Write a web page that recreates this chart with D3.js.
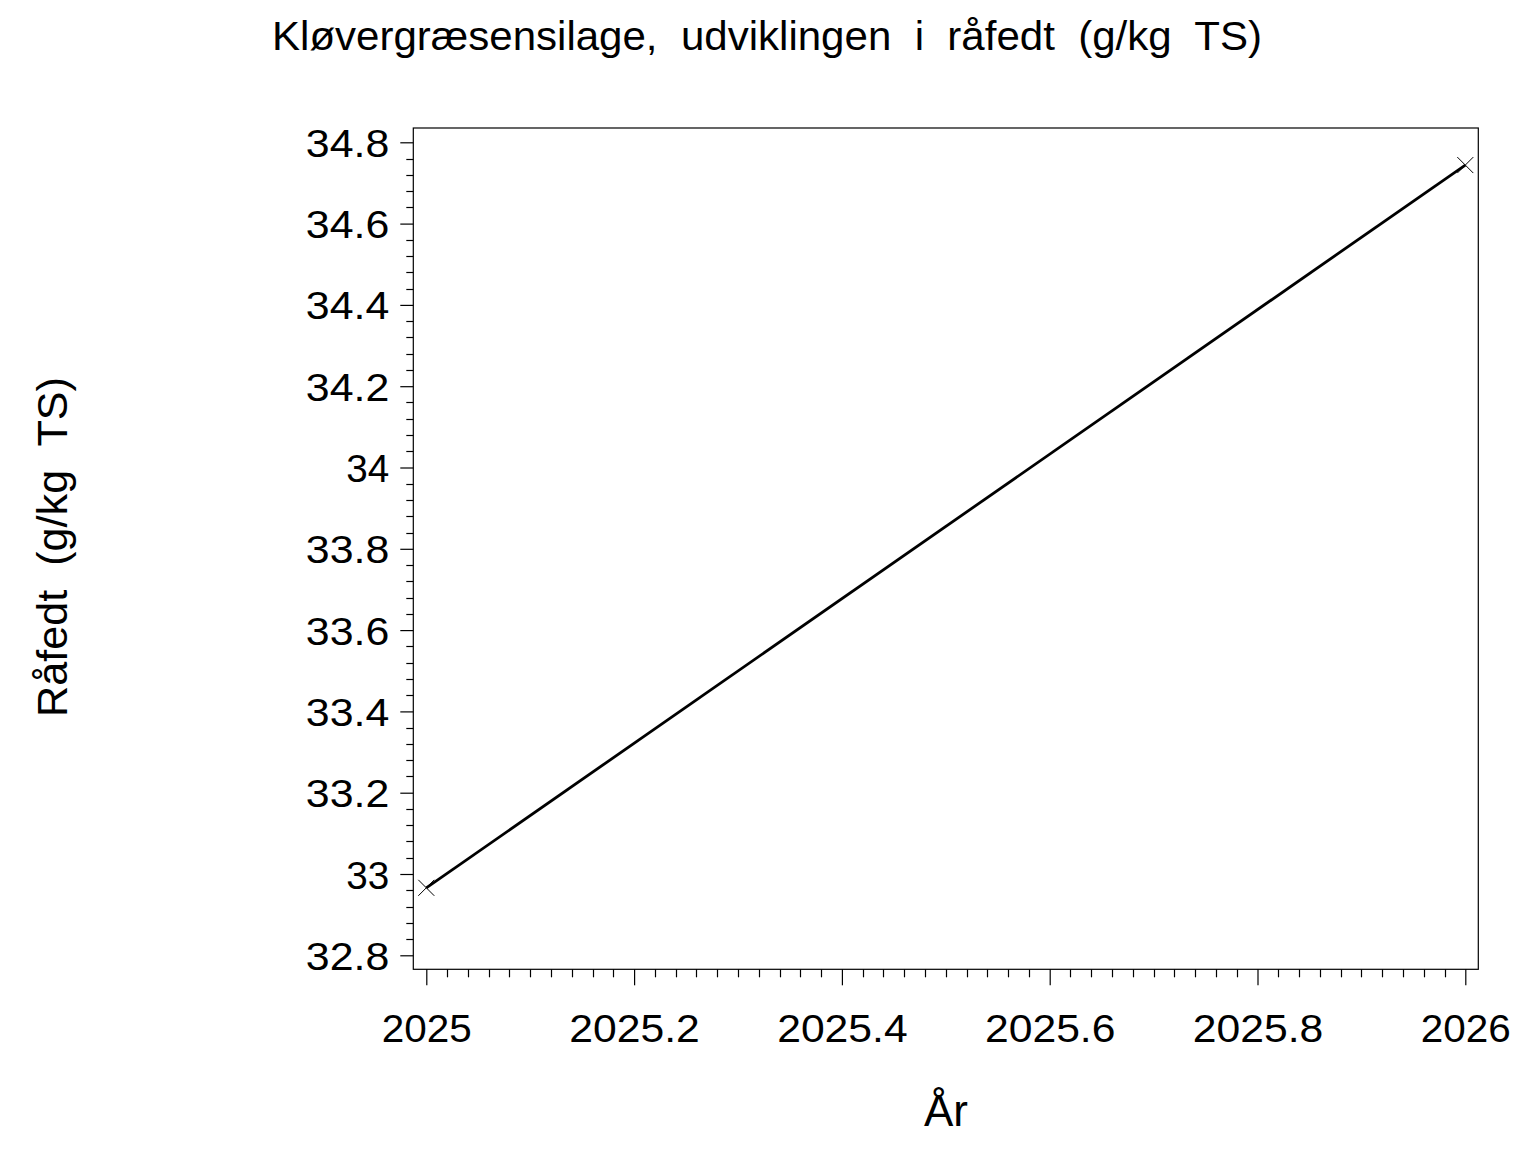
<!DOCTYPE html>
<html>
<head>
<meta charset="utf-8">
<script src="https://cdn.jsdelivr.net/npm/d3@7"></script>
<style>
  html, body { margin: 0; padding: 0; background: #fff; }
  svg { display: block; }
  text { font-family: Arial, "Liberation Sans", sans-serif; fill: #000; }
</style>
</head>
<body>
<svg id="chart" width="1536" height="1152"></svg>
<script>
// ---- data ----
const years = [2025, 2026];
const raafedt = [32.966, 34.744];
const xTickValues = [2025, 2025.2, 2025.4, 2025.6, 2025.8, 2026];
const xTickLabels = ["2025", "2025.2", "2025.4", "2025.6", "2025.8", "2026"];
const yTickValues = [32.8, 33.0, 33.2, 33.4, 33.6, 33.8, 34.0, 34.2, 34.4, 34.6, 34.8];
const yTickLabels = ["32.8", "33", "33.2", "33.4", "33.6", "33.8", "34", "34.2", "34.4", "34.6", "34.8"];
const titleText = "Kløvergræsensilage,  udviklingen  i  råfedt  (g/kg  TS)";
const xLabel = "År";
const yLabel = "Råfedt  (g/kg  TS)";

// ---- layout ----
const frame = { left: 413.3, right: 1478.3, top: 128, bottom: 969.3 };
const svg = d3.select("#chart");

const x = d3.scaleLinear().domain([2025, 2026]).range([426.3, 1465.3]);
const y = d3.scaleLinear().domain([32.8, 34.8]).range([955.3, 142.3]);

function labelWidth(s) {
  let w = 0;
  for (const c of s) w += (c === ".") ? 18 : 22.5;
  return w;
}

// frame
svg.append("rect")
  .attr("x", frame.left).attr("y", frame.top)
  .attr("width", frame.right - frame.left).attr("height", frame.bottom - frame.top)
  .attr("fill", "none").attr("stroke", "#000").attr("stroke-width", 1.2);

// y minor ticks
const yMinor = d3.range(0, 51).map(i => 32.8 + i * 0.04)
  .filter(v => Math.abs(((v - 32.8) / 0.2) - Math.round((v - 32.8) / 0.2)) > 1e-6);
svg.append("g").selectAll("line").data(yMinor).join("line")
  .attr("x1", frame.left - 7).attr("x2", frame.left)
  .attr("y1", d => Math.round(y(d)) + 0.5).attr("y2", d => Math.round(y(d)) + 0.5)
  .attr("stroke", "#000").attr("stroke-width", 1.2);

// y axis (major)
const yAxis = d3.axisLeft(y).tickValues(yTickValues).tickSize(13).tickPadding(11)
  .tickFormat((d, i) => yTickLabels[i]);
const gy = svg.append("g").attr("transform", `translate(${frame.left},0)`).call(yAxis);
gy.select(".domain").remove();
gy.selectAll(".tick line").attr("stroke", "#000").attr("stroke-width", 1.2);
gy.selectAll(".tick text")
  .attr("font-size", 39).attr("font-family", "Arial, 'Liberation Sans', sans-serif")
  .attr("fill", "#000")
  .attr("dy", "0.36em")
  .attr("textLength", (d, i) => labelWidth(yTickLabels[i]) - 2)
  .attr("lengthAdjust", "spacingAndGlyphs");

// x minor ticks
const xMinor = d3.range(0, 51).map(i => 2025 + i * 0.02)
  .filter(v => Math.abs(((v - 2025) / 0.2) - Math.round((v - 2025) / 0.2)) > 1e-6);
svg.append("g").selectAll("line").data(xMinor).join("line")
  .attr("x1", d => Math.round(x(d)) + 0.5).attr("x2", d => Math.round(x(d)) + 0.5)
  .attr("y1", frame.bottom).attr("y2", frame.bottom + 8)
  .attr("stroke", "#000").attr("stroke-width", 1.2);

// x axis (major)
const xAxis = d3.axisBottom(x).tickValues(xTickValues).tickSize(16).tickPadding(29)
  .tickFormat((d, i) => xTickLabels[i]);
const gx = svg.append("g").attr("transform", `translate(0,${frame.bottom})`).call(xAxis);
gx.select(".domain").remove();
gx.selectAll(".tick line").attr("stroke", "#000").attr("stroke-width", 1.2);
gx.selectAll(".tick text")
  .attr("font-size", 39).attr("font-family", "Arial, 'Liberation Sans', sans-serif")
  .attr("fill", "#000")
  .attr("y", null).attr("dy", null)
  .attr("transform", "translate(0,73)")
  .attr("textLength", (d, i) => labelWidth(xTickLabels[i]))
  .attr("lengthAdjust", "spacingAndGlyphs");

// line
const pts = years.map((yr, i) => [yr, raafedt[i]]);
svg.append("path")
  .datum(pts)
  .attr("d", d3.line().x(d => x(d[0])).y(d => y(d[1])))
  .attr("fill", "none").attr("stroke", "#000").attr("stroke-width", 2.8);

// markers (x)
const m = 8;
const mk = svg.append("g").selectAll("g").data(pts).join("g")
  .attr("transform", d => `translate(${x(d[0])},${y(d[1])})`);
mk.append("line").attr("x1", -m).attr("y1", -m).attr("x2", m).attr("y2", m)
  .attr("stroke", "#000").attr("stroke-width", 1);
mk.append("line").attr("x1", -m).attr("y1", m).attr("x2", m).attr("y2", -m)
  .attr("stroke", "#000").attr("stroke-width", 1);

// title
svg.append("text")
  .attr("x", 272).attr("y", 50)
  .attr("font-size", 41)
  .style("white-space", "pre")
  .attr("textLength", 990).attr("lengthAdjust", "spacingAndGlyphs")
  .text(titleText);

// x label
svg.append("text")
  .attr("x", 946).attr("y", 1126)
  .attr("text-anchor", "middle")
  .attr("font-size", 44)
  .text(xLabel);

// y label
svg.append("text")
  .attr("transform", "translate(67,547) rotate(-90)")
  .attr("text-anchor", "middle")
  .attr("font-size", 43)
  .style("white-space", "pre")
  .attr("textLength", 340).attr("lengthAdjust", "spacingAndGlyphs")
  .text(yLabel);
</script>
</body>
</html>
